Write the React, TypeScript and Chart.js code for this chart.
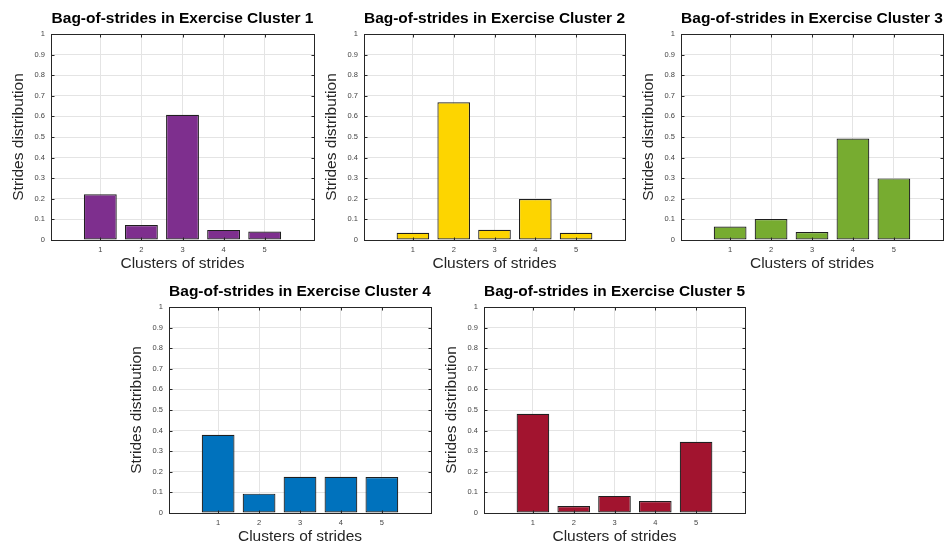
import React, { useEffect, useRef } from "react";
import { Chart, registerables } from "chart.js";
Chart.register(...registerables);

const categories = [1, 2, 3, 4, 5];
const yTickValues = [0, 0.1, 0.2, 0.3, 0.4, 0.5, 0.6, 0.7, 0.8, 0.9, 1];

const cluster1 = [0.222, 0.073, 0.608, 0.049, 0.041];
const cluster2 = [0.035, 0.669, 0.05, 0.199, 0.035];
const cluster3 = [0.065, 0.102, 0.039, 0.493, 0.299];
const cluster4 = [0.38, 0.094, 0.176, 0.176, 0.175];
const cluster5 = [0.482, 0.034, 0.083, 0.058, 0.346];

const titles = [
  "Bag-of-strides in Exercise Cluster 1",
  "Bag-of-strides in Exercise Cluster 2",
  "Bag-of-strides in Exercise Cluster 3",
  "Bag-of-strides in Exercise Cluster 4",
  "Bag-of-strides in Exercise Cluster 5",
];
const seriesList = [cluster1, cluster2, cluster3, cluster4, cluster5];
const colors = ["#7E2F8E", "#FDD500", "#77AC30", "#0072BD", "#A2142F"];

const xLabel = "Clusters of strides";
const yLabel = "Strides distribution";

// plot-area rectangles (layout)
const plots = [
  { l: 51, t: 34, r: 314, b: 240 },
  { l: 364, t: 34, r: 625, b: 240 },
  { l: 681, t: 34, r: 943, b: 240 },
  { l: 169, t: 307, r: 431, b: 513 },
  { l: 484, t: 307, r: 745, b: 513 },
];

const FONT = "'Liberation Sans', Arial, Helvetica, sans-serif";
const LEFT = 48;
const TOP = 34;
const BOTTOM = 33;
const RIGHT = 6;

const boxPlugin = {
  id: "matlabBox",
  afterDatasetsDraw(chart: any) {
    const { ctx, chartArea, scales } = chart;
    const { left, right, top, bottom } = chartArea;
    const a = (v: number) => Math.round(v) + 0.5;
    ctx.save();
    ctx.strokeStyle = "#262626";
    ctx.lineWidth = 1;
    ctx.strokeRect(a(left), a(top), Math.round(right) - Math.round(left), Math.round(bottom) - Math.round(top));
    const tl = 3;
    ctx.beginPath();
    for (const t of scales.y.ticks) {
      const py = a(scales.y.getPixelForValue(t.value));
      ctx.moveTo(a(left), py);
      ctx.lineTo(a(left) + tl, py);
      ctx.moveTo(a(right), py);
      ctx.lineTo(a(right) - tl, py);
    }
    for (const t of scales.x.ticks) {
      const px = a(scales.x.getPixelForValue(t.value));
      ctx.moveTo(px, a(bottom));
      ctx.lineTo(px, a(bottom) - tl);
      ctx.moveTo(px, a(top));
      ctx.lineTo(px, a(top) + tl);
    }
    ctx.stroke();
    ctx.restore();
  },
};

function BarPanel({ title, values, color, plot }: any) {
  const ref = useRef<HTMLCanvasElement>(null);
  const W = LEFT + (plot.r - plot.l) + RIGHT;
  const H = TOP + (plot.b - plot.t) + BOTTOM;

  useEffect(() => {
    const chart = new Chart(ref.current as HTMLCanvasElement, {
      type: "bar",
      data: {
        datasets: [
          {
            data: categories.map((c, i) => ({ x: c, y: values[i] })),
            backgroundColor: color,
            borderColor: "#1f1f1f",
            borderWidth: 1.2,
            borderSkipped: false,
            barPercentage: 0.8,
            categoryPercentage: 1,
          } as any,
        ],
      },
      options: {
        responsive: false,
        animation: false,
        devicePixelRatio: 1,
        layout: { padding: { left: 0, right: RIGHT, top: 0, bottom: 0 } },
        plugins: {
          legend: { display: false },
          tooltip: { enabled: false },
          title: {
            display: true,
            text: title,
            fullSize: false,
            color: "#000",
            font: { family: FONT, size: 15.5, weight: "bold" },
            padding: { top: 9.6, bottom: 5.8 },
          },
        },
        scales: {
          x: {
            type: "linear",
            min: -0.2,
            max: 6.2,
            offset: false,
            afterBuildTicks: (s: any) => {
              s.ticks = categories.map((v) => ({ value: v }));
            },
            afterFit: (s: any) => {
              s.height = BOTTOM;
            },
            grid: { offset: false, color: "#e4e4e4", lineWidth: 1, drawTicks: false },
            border: { display: false },
            ticks: {
              padding: 5,
              autoSkip: false,
              maxRotation: 0,
              color: "#444",
              font: { family: FONT, size: 7.5 },
              callback: (v: any) => String(v),
            },
            title: {
              display: true,
              text: xLabel,
              color: "#262626",
              font: { family: FONT, size: 15.5 },
              padding: { top: 0, bottom: 0 },
            },
          },
          y: {
            min: 0,
            max: 1,
            afterBuildTicks: (s: any) => {
              s.ticks = yTickValues.map((v) => ({ value: v }));
            },
            afterFit: (s: any) => {
              s.width = LEFT;
            },
            grid: { color: "#e4e4e4", lineWidth: 1, drawTicks: false },
            border: { display: false },
            ticks: {
              padding: 6,
              color: "#444",
              font: { family: FONT, size: 7.5 },
              callback: (v: any) => String(Number(Number(v).toFixed(1))),
            },
            title: {
              display: true,
              text: yLabel,
              color: "#262626",
              font: { family: FONT, size: 15.5 },
              padding: { top: 6, bottom: 0 },
            },
          },
        },
      } as any,
      plugins: [boxPlugin],
    });
    return () => chart.destroy();
  }, []);

  return (
    <canvas
      ref={ref}
      width={W}
      height={H}
      style={{ position: "absolute", left: plot.l - LEFT, top: plot.t - TOP, width: W, height: H }}
    />
  );
}

export default function App() {
  return (
    <div style={{ position: "absolute", left: 0, top: 0, width: 952, height: 548, background: "#fff" }}>
      {plots.map((p, i) => (
        <BarPanel key={i} title={titles[i]} values={seriesList[i]} color={colors[i]} plot={p} />
      ))}
    </div>
  );
}
